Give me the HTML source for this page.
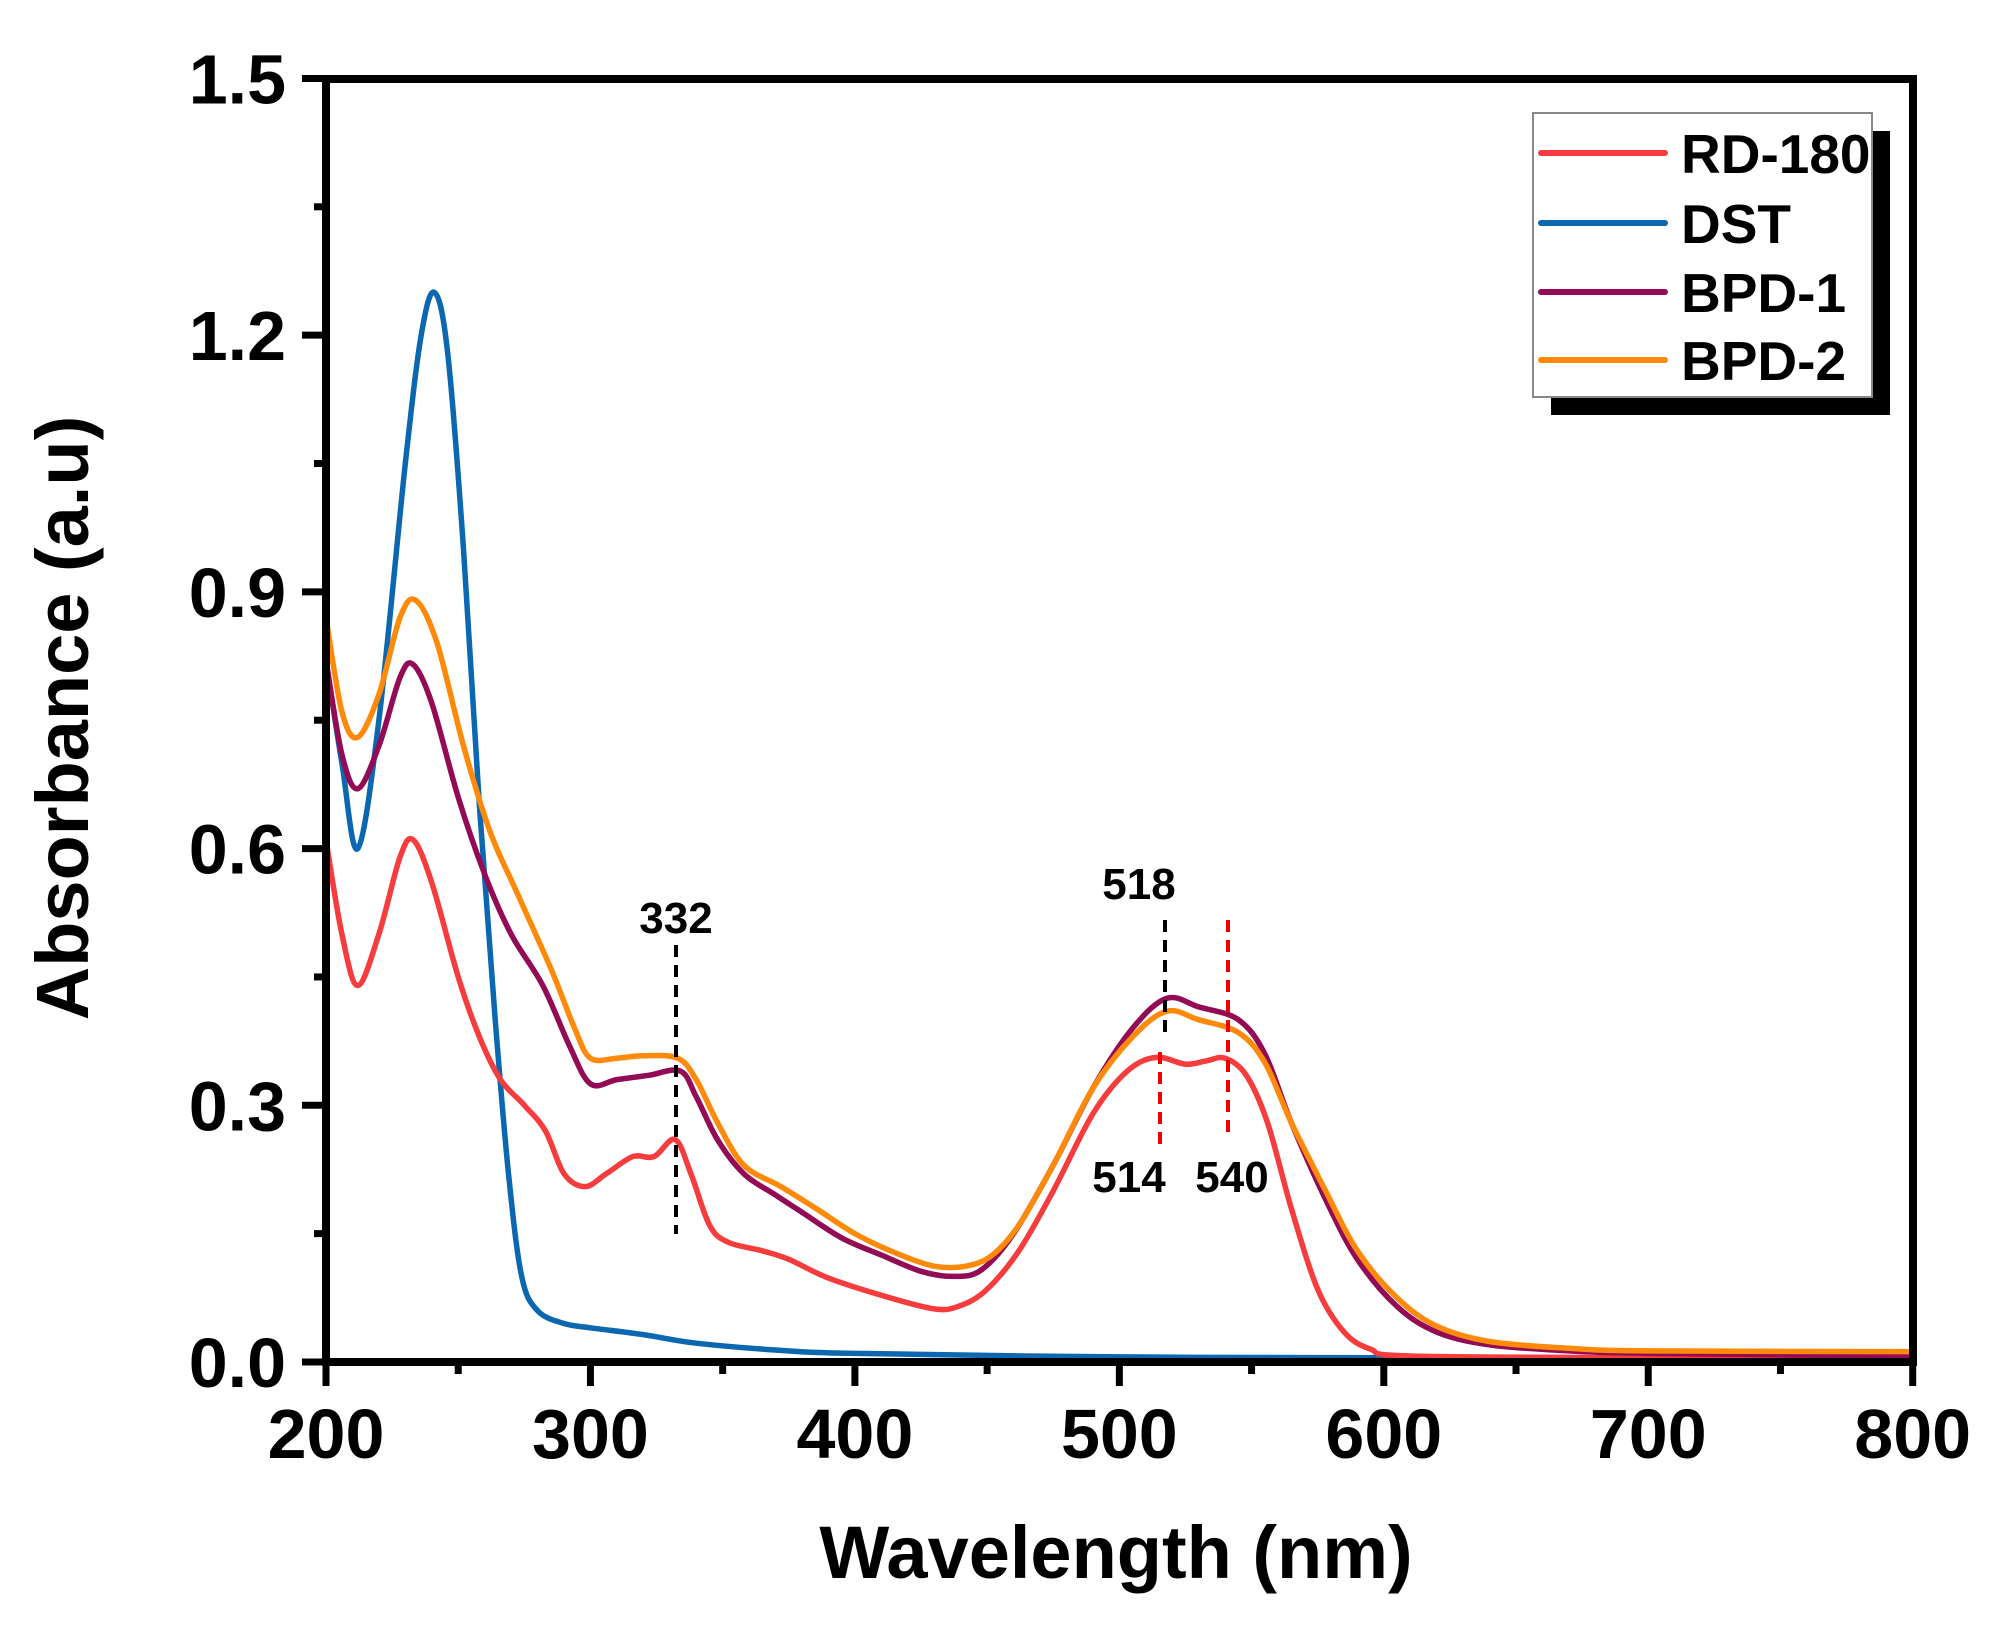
<!DOCTYPE html>
<html><head><meta charset="utf-8"><style>
html,body{margin:0;padding:0;background:#fff;}
svg{display:block;font-family:"Liberation Sans",Arial,sans-serif;font-weight:bold;}
</style></head><body>
<svg id="s" width="2013" height="1626" viewBox="0 0 2013 1626" xmlns="http://www.w3.org/2000/svg">
<rect width="2013" height="1626" fill="#fff"/>
<g id="curves" fill="none" stroke-width="5.5" stroke-linejoin="round" stroke-linecap="round"></g>
<g stroke-width="4" stroke-dasharray="12,8">
<line x1="676" y1="945" x2="676" y2="1234" stroke="#000"/>
<line x1="1165" y1="920" x2="1165" y2="1034" stroke="#000"/>
<line x1="1160" y1="1052" x2="1160" y2="1145" stroke="#e00"/>
<line x1="1228" y1="920" x2="1228" y2="1140" stroke="#e00"/>
</g>
<g font-size="44" text-anchor="middle" fill="#000">
<text x="676" y="933">332</text>
<text x="1139" y="899">518</text>
<text x="1129" y="1192">514</text>
<text x="1232" y="1192">540</text>
</g>
<g stroke="#000" stroke-width="8" fill="none">
<rect x="326" y="79" width="1587" height="1283"/>
</g>
<g id="ticks" stroke="#000" stroke-width="7"></g>
<g font-size="70" fill="#000" text-anchor="end" id="ylab"></g>
<g font-size="70" fill="#000" text-anchor="middle" id="xlab"></g>
<text x="1116" y="1578" font-size="74" text-anchor="middle">Wavelength (nm)</text>
<text transform="translate(88,718) rotate(-90)" font-size="74" text-anchor="middle">Absorbance (a.u)</text>
<rect x="1551" y="131" width="339" height="284" fill="#000"/>
<rect x="1533" y="113" width="339" height="284" fill="#fff" stroke="#888" stroke-width="2"/>
<g stroke-width="6" stroke-linecap="round">
<line x1="1541" y1="153" x2="1665" y2="153" stroke="#f63c3c"/>
<line x1="1541" y1="223" x2="1665" y2="223" stroke="#0a67b0"/>
<line x1="1541" y1="292" x2="1665" y2="292" stroke="#930a55"/>
<line x1="1541" y1="360" x2="1665" y2="360" stroke="#ff8a0a"/>
</g>
<g font-size="55" fill="#000">
<text x="1681" y="173">RD-180</text>
<text x="1681" y="243">DST</text>
<text x="1681" y="312">BPD-1</text>
<text x="1681" y="380">BPD-2</text>
</g>
</svg>
<script>
const X=w=>326+(w-200)*2.6445, Y=a=>1362-a*855.7;
const NS="http://www.w3.org/2000/svg";
function path(pts){
 const p=pts.map(([w,a])=>[X(w),Y(a)]);
 let d="M"+p[0][0].toFixed(1)+","+p[0][1].toFixed(1);
 for(let i=0;i<p.length-1;i++){
  const p0=p[i-1]||p[i],p1=p[i],p2=p[i+1],p3=p[i+2]||p2;
  const c1=[p1[0]+(p2[0]-p0[0])/6,p1[1]+(p2[1]-p0[1])/6];
  const c2=[p2[0]-(p3[0]-p1[0])/6,p2[1]-(p3[1]-p1[1])/6];
  d+=" C"+c1.map(v=>v.toFixed(1))+" "+c2.map(v=>v.toFixed(1))+" "+p2.map(v=>v.toFixed(1));
 }
 return d;
}
const data={
"#0a67b0":[[200,0.82],[206,0.7],[212,0.6],[220,0.75],[230,1.05],[236,1.2],[241,1.25],[246,1.18],[252,0.95],[258,0.65],[264,0.4],[269,0.22],[274,0.1],[280,0.06],[290,0.045],[300,0.04],[320,0.032],[340,0.022],[370,0.014],[400,0.01],[500,0.006],[600,0.005],[800,0.003]],
"#f63c3c":[[200,0.61],[206,0.5],[212,0.44],[220,0.5],[228,0.59],[233,0.61],[240,0.56],[250,0.45],[258,0.38],[266,0.33],[275,0.3],[283,0.27],[290,0.22],[298,0.205],[306,0.22],[316,0.24],[324,0.24],[332,0.26],[338,0.22],[345,0.16],[352,0.14],[365,0.13],[375,0.12],[390,0.098],[410,0.078],[430,0.062],[440,0.066],[450,0.085],[462,0.13],[475,0.2],[490,0.29],[503,0.34],[514,0.356],[525,0.348],[533,0.352],[540,0.355],[548,0.335],[556,0.28],[565,0.18],[575,0.085],[585,0.035],[595,0.015],[610,0.007],[700,0.005],[800,0.004]],
"#930a55":[[200,0.82],[206,0.71],[212,0.67],[220,0.72],[228,0.8],[233,0.815],[240,0.77],[250,0.66],[260,0.57],[270,0.5],[282,0.44],[292,0.37],[300,0.325],[310,0.33],[322,0.335],[334,0.34],[340,0.31],[348,0.26],[358,0.22],[370,0.195],[380,0.175],[395,0.145],[410,0.125],[425,0.106],[438,0.1],[448,0.108],[460,0.15],[475,0.23],[490,0.32],[505,0.39],[518,0.425],[530,0.415],[545,0.4],[555,0.36],[565,0.28],[578,0.19],[590,0.12],[605,0.065],[620,0.035],[640,0.02],[670,0.013],[700,0.01],[800,0.007]],
"#ff8a0a":[[200,0.87],[206,0.76],[212,0.73],[220,0.78],[228,0.87],[234,0.89],[242,0.84],[252,0.72],[262,0.62],[272,0.55],[285,0.46],[294,0.39],[300,0.355],[310,0.355],[320,0.358],[333,0.355],[340,0.33],[348,0.28],[358,0.23],[372,0.205],[385,0.18],[400,0.15],[415,0.128],[430,0.112],[442,0.112],[452,0.125],[462,0.16],[475,0.23],[490,0.32],[505,0.38],[518,0.41],[530,0.4],[545,0.385],[555,0.35],[565,0.28],[578,0.2],[590,0.13],[605,0.075],[620,0.042],[640,0.024],[670,0.016],[700,0.013],[800,0.012]]
};
const g=document.getElementById("curves");
for(const c of ["#0a67b0","#f63c3c","#930a55","#ff8a0a"]){
 const p=document.createElementNS(NS,"path");p.setAttribute("d",path(data[c]));p.setAttribute("stroke",c);g.appendChild(p);
}
const t=document.getElementById("ticks"),yl=document.getElementById("ylab"),xl=document.getElementById("xlab");
function ln(x1,y1,x2,y2){const l=document.createElementNS(NS,"line");l.setAttribute("x1",x1);l.setAttribute("y1",y1);l.setAttribute("x2",x2);l.setAttribute("y2",y2);t.appendChild(l);}
function tx(g,x,y,s){const e=document.createElementNS(NS,"text");e.setAttribute("x",x);e.setAttribute("y",y);e.textContent=s;g.appendChild(e);}
for(let i=0;i<=5;i++){const a=i*0.3,y=Y(a);ln(302,y,326,y);tx(yl,286,y+25,a.toFixed(1));
 if(i<5){ln(314,Y(a+0.15),326,Y(a+0.15));}}
for(let w=200;w<=800;w+=100){const x=X(w);ln(x,1362,x,1386);tx(xl,x,1458,String(w));
 if(w<800){ln(X(w+50),1362,X(w+50),1374);}}
</script>
</body></html>
